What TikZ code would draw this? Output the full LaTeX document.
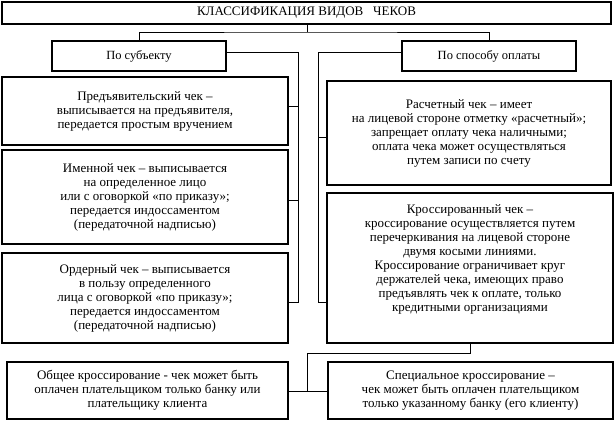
\documentclass[tikz,border=0pt]{standalone}
\usepackage{fontspec}
\setmainfont{Liberation Serif}
\usetikzlibrary{calc}
\tikzset{
  x=1pt,y=-1pt,
  box/.style={draw,line width=1.3pt,inner sep=0pt,align=center,font=\fontsize{13}{14}\selectfont},
  conn/.style={line width=0.8pt}
}
\newcommand{\bx}[6]{% name, x1,y1,x2,y2,text
  \node[box,minimum width=#4-#2,minimum height=#5-#3] (#1) at ({(#2+#4)/2},{(#3+#5)/2}) {#6};}
\begin{document}
\begin{tikzpicture}
\useasboundingbox (0,0) rectangle (615,421);
\bx{title}{2}{2}{611}{24}{\fontsize{13}{14}\selectfont КЛАССИФИКАЦИЯ ВИДОВ\enspace\ ЧЕКОВ}
\bx{subj}{52}{41}{226}{71}{\fontsize{12.5}{14}\selectfont По субъекту}
\bx{pay}{402}{41}{576}{71}{\fontsize{12.5}{14}\selectfont По способу оплаты}
\bx{b1}{2}{77}{288}{145}{Предъявительский чек –\\выписывается на предъявителя,\\передается простым вручением}
\bx{b2}{2}{150}{288}{244}{Именной чек – выписывается\\на определенное лицо\\или с оговоркой «по приказу»;\\передается индоссаментом\\(передаточной надписью)}
\bx{b3}{2}{253}{288}{343}{Ордерный чек – выписывается\\в пользу определенного\\лица с оговоркой «по приказу»;\\передается индоссаментом\\(передаточной надписью)}
\bx{r1}{327}{81}{611}{185}{Расчетный чек – имеет\\на лицевой стороне отметку «расчетный»;\\запрещает оплату чека наличными;\\оплата чека может осуществляться\\путем записи по счету}
\bx{r2}{327}{193}{613}{343}{\fontsize{13}{13}\selectfont Кроссированный чек –\\кроссирование осуществляется путем\\перечеркивания на лицевой стороне\\двумя косыми линиями.\\Кроссирование ограничивает круг\\держателей чека, имеющих право\\предъявлять чек к оплате, только\\кредитными организациями\\[6pt]}
\bx{g}{7}{362}{288}{419}{Общее кроссирование - чек может быть\\оплачен плательщиком только банку или\\плательщику клиента}
\bx{s}{328}{362}{613}{419}{Специальное кроссирование –\\чек может быть оплачен плательщиком\\только указанному банку (его клиенту)}
% coordinates
\coordinate (t1) at (307,32);
\coordinate (lb) at (298,52);
\coordinate (lb2) at (298,302);
\coordinate (rb) at (318,52);
\coordinate (rb2) at (318,302);
\coordinate (k1) at (470,353);
\coordinate (k2) at (307,353);
\coordinate (k3) at (307,391);
% connectors
\draw[conn] (title.south -| t1) -- (t1);
\draw[conn] (subj.north) |- (t1) -| (pay.north);
\draw[conn] (subj.east |- lb) -- (lb) -- (lb2) -- (b3.east |- lb2);
\draw[conn] (b1.east |- 0,106) -- (298,106);
\draw[conn] (b2.east |- 0,200) -- (298,200);
\draw[conn] (pay.west |- rb) -- (rb) -- (rb2) -- (r2.west |- rb2);
\draw[conn] (r1.west |- 0,137) -- (318,137);
\draw[conn] (r2.south -| k1) -- (k1) -- (k2) -- (k3);
\draw[conn] (g.east |- k3) -- (s.west |- k3);
\end{tikzpicture}
\end{document}
